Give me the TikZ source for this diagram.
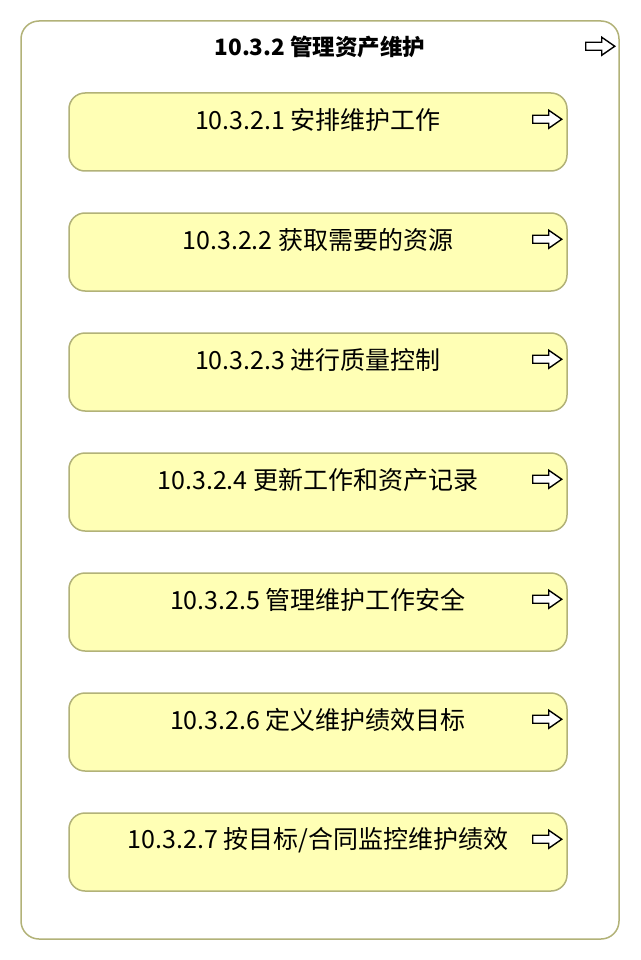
\documentclass[tikz,border=0pt]{standalone}
\usepackage{fontspec}
\setmainfont{Noto Sans CJK SC}
\definecolor{task edge}{RGB}{178,178,120}
\definecolor{task area}{RGB}{255,255,181}
\tikzset{
  taskbox/.style={draw=task edge, fill=task area, line width=1.5pt, rounded corners=16pt,
    minimum width=498pt, minimum height=78pt, inner sep=0pt},
  groupbox/.style={draw=task edge, fill=white, line width=1.5pt, rounded corners=18pt,
    minimum width=598pt, minimum height=918pt, inner sep=0pt},
  tasklabel/.style={font=\fontsize{25}{28}\selectfont, anchor=center},
  pics/goarrow/.style={code={
    \draw[line width=1.4pt, fill=white, line join=miter]
      (0,-4) -- (16,-4) -- (16,-9) -- (29,0) -- (16,9) -- (16,4) -- (0,4) -- cycle;
  }}
}
\begin{document}
\begin{tikzpicture}[x=1pt,y=-1pt]
\useasboundingbox (0,0) rectangle (640,960);
\node[groupbox] (group) at (320,480) {};
\node[tasklabel, font=\fontsize{22.5}{26}\selectfont\bfseries] (title) at (320,47) {10.3.2 管理资产维护};
\pic at ([xshift=-34pt,yshift=-26pt]group.north east) {goarrow};

\foreach \i/\txt in {1/{10.3.2.1 安排维护工作}, 2/{10.3.2.2 获取需要的资源}, 3/{10.3.2.3 进行质量控制},
  4/{10.3.2.4 更新工作和资产记录}, 5/{10.3.2.5 管理维护工作安全}, 6/{10.3.2.6 定义维护绩效目标},
  7/{10.3.2.7 按目标/合同监控维护绩效}} {
  \node[taskbox] (task\i) at (318,{132+120*(\i-1)}) {};
  \node[tasklabel] (label\i) at ([yshift=-28pt]task\i.north) {\txt};
  \pic at ([xshift=-35pt,yshift=-27pt]task\i.north east) {goarrow};
}
\end{tikzpicture}
\end{document}
